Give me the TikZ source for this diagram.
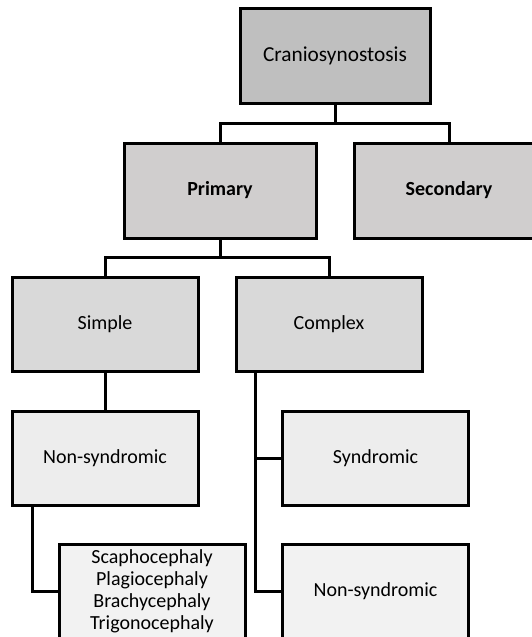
\documentclass[tikz,border=0pt]{standalone}
\usepackage{fontspec}
\setmainfont{Carlito}
\usetikzlibrary{positioning}
\definecolor{lvlzero}{HTML}{BFBFBF}
\definecolor{lvlone}{HTML}{D0CECE}
\definecolor{lvltwo}{HTML}{D9D9D9}
\definecolor{lvlthree}{HTML}{EDEDED}
\definecolor{lvlfour}{HTML}{F2F2F2}

\begin{document}
\begin{tikzpicture}[x=0.75pt, y=-0.75pt,
    box/.style={draw=black, line width=2.25pt, minimum width=139.5pt,
        minimum height=70.5pt, align=center, inner sep=0pt, outer sep=0pt,
        font=\fontsize{15}{16.5}\selectfont},
    link/.style={line width=2.25pt}]
            \useasboundingbox (0, 0) rectangle (532, 637);
            \fill[white] (0, 0) rectangle (532, 637);
            \clip (0, 0) rectangle (532, 637);
            \node[box, fill=lvlzero, minimum width=142.5pt, minimum height=71.25pt,
                font=\fontsize{16}{19}\selectfont] (cranio) at (335, 55.5) {Craniosynostosis};
            \node[box, fill=lvlone, minimum width=144pt, minimum height=71.25pt] (primary) at (220, 190.5) {\bfseries Primary};
            \node[box, fill=lvlone, minimum width=142.5pt, minimum height=71.25pt] (secondary) at (449, 190.5) {\bfseries Secondary};
            \node[box, fill=lvltwo] (simple) at (105, 324) {Simple};
            \node[box, fill=lvltwo] (complex) at (329, 324) {Complex};
            \node[box, fill=lvlthree] (nonsynA) at (105, 458) {Non-syndromic};
            \node[box, fill=lvlthree] (syndromic) at (375.5, 458) {Syndromic};
            \node[box, fill=lvlfour] (types) at (152, 591)
                {Scaphocephaly\\Plagiocephaly\\Brachycephaly\\Trigonocephaly};
            \node[box, fill=lvlfour] (nonsynB) at (375.5, 591) {Non-syndromic};
            \draw[link] (cranio.south) -- ++(0, 20);
            \draw[link] (primary.north) -- ++(0, -20) -| (secondary.north);
            \draw[link] (primary.south) -- ++(0, 19);
            \draw[link] (simple.north) -- ++(0, -20) -| (complex.north);
            \draw[link] (simple.south) -- (nonsynA.north);
            \coordinate (cbus) at ([xshift=14.25pt]complex.south west);
            \draw[link] (cbus) |- (nonsynB.west);
            \draw[link] (syndromic.west) -- (cbus |- syndromic.west);
            \coordinate (nbus) at ([xshift=15pt]nonsynA.south west);
            \draw[link] (nbus) |- (types.west);
        \end{tikzpicture}
\end{document}
